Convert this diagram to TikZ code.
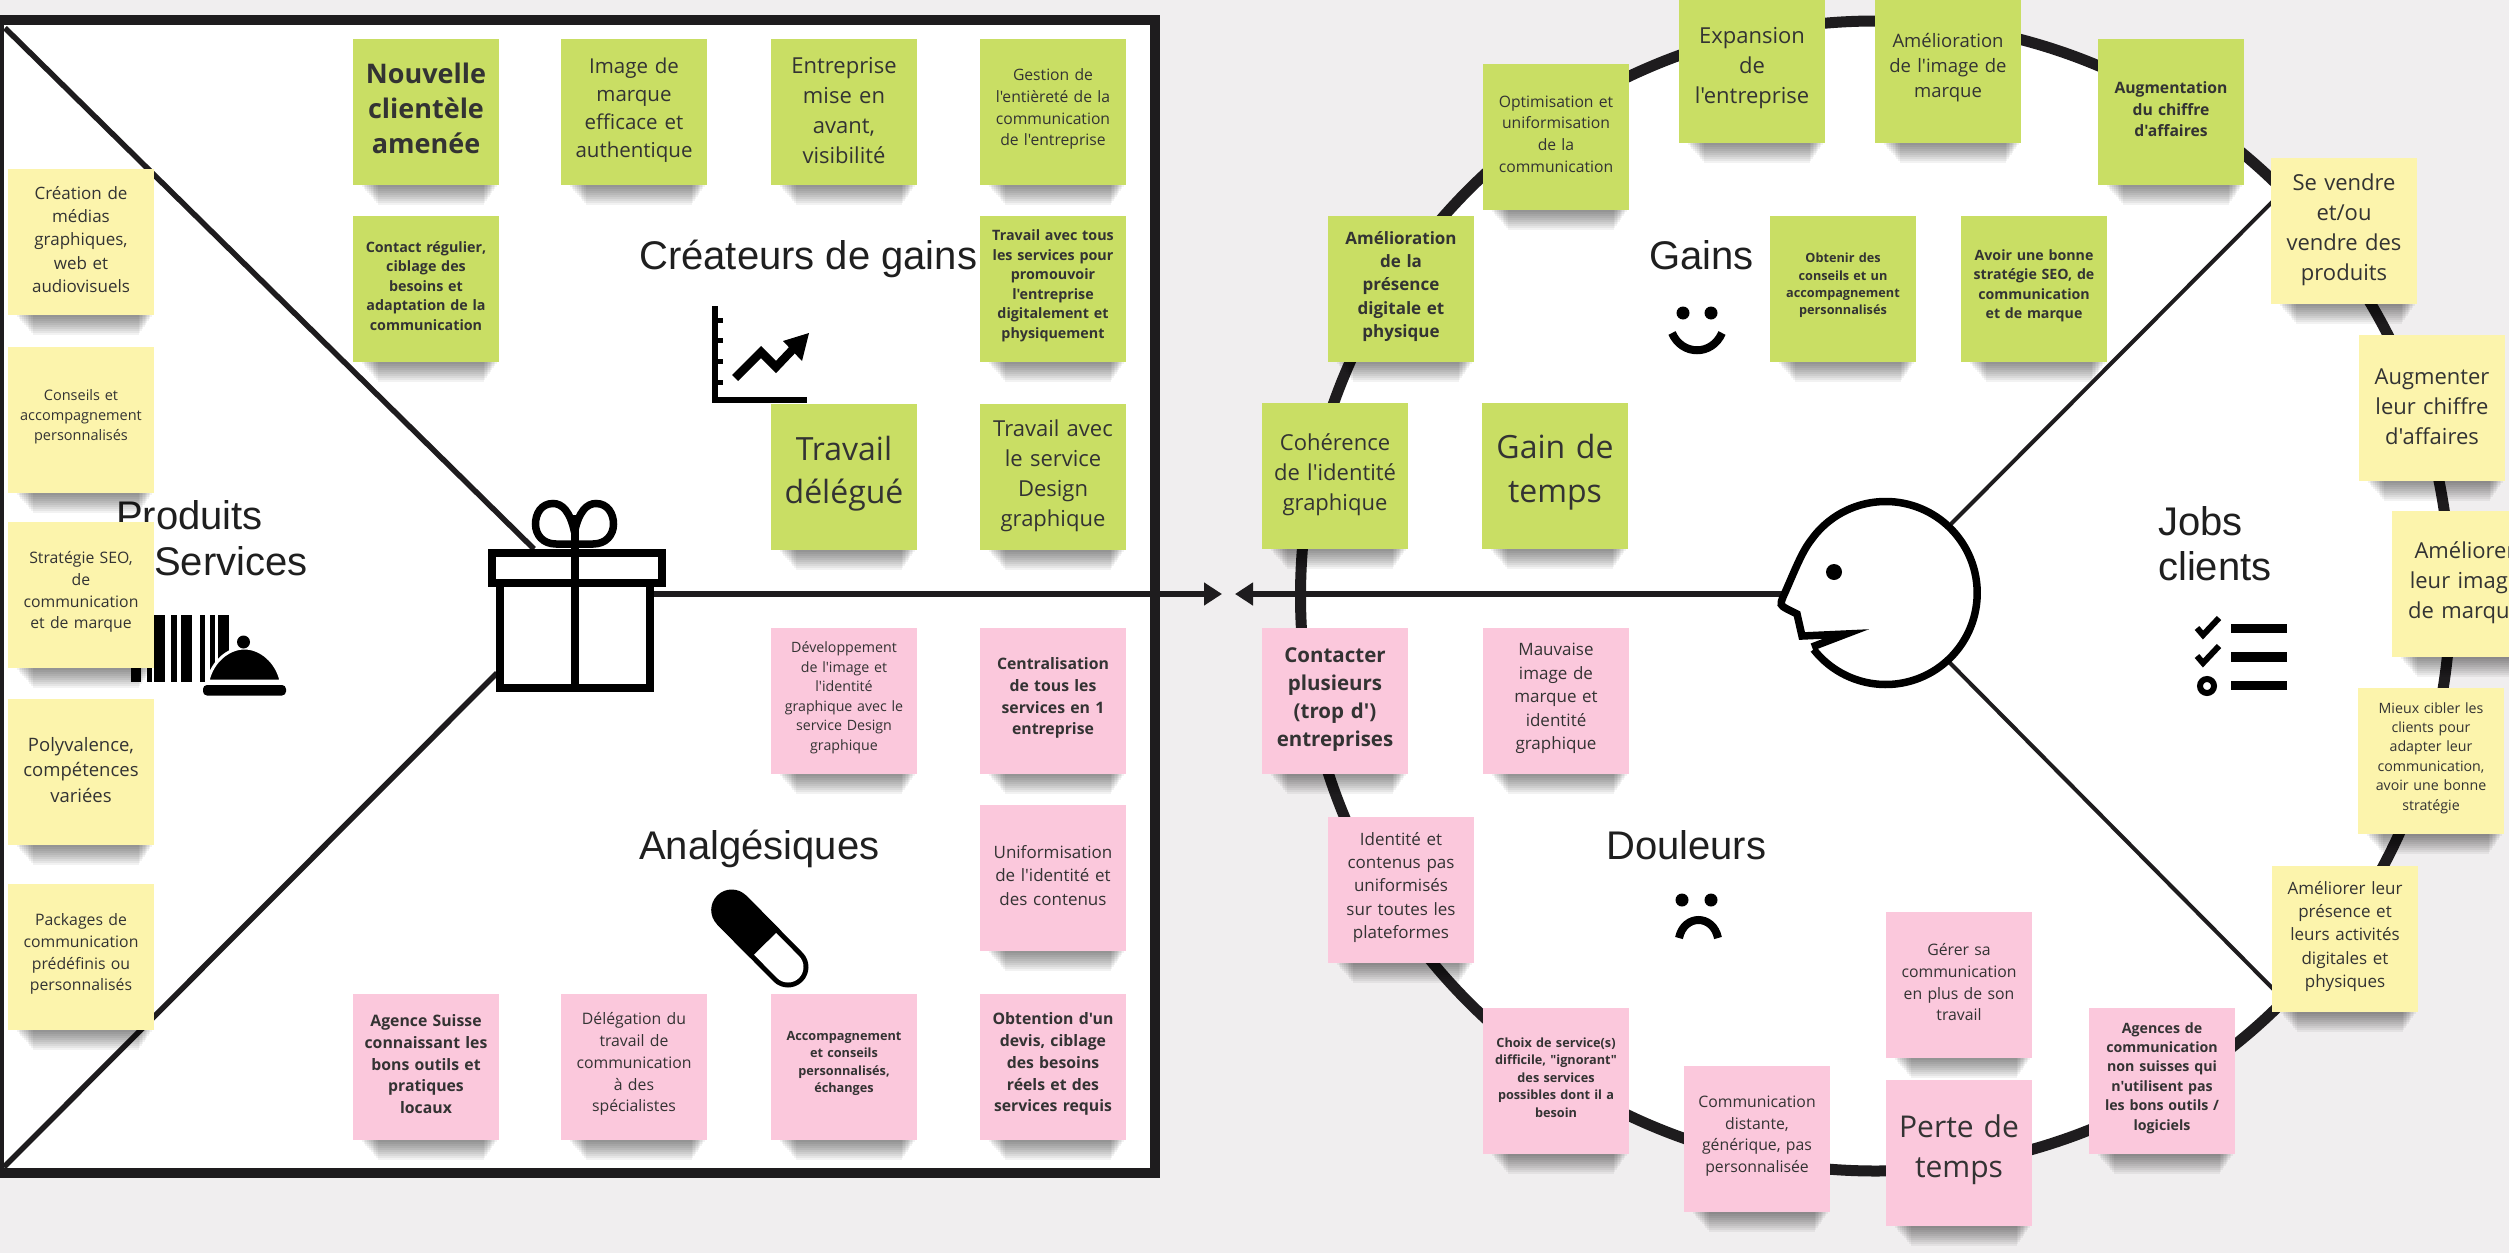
\documentclass[tikz,border=0pt]{standalone}
\usepackage{fontspec}
\usetikzlibrary{arrows.meta,calc}
\newfontfamily\osf{Open Sans}
\newfontfamily\arf{Liberation Sans}
\definecolor{bgc}{HTML}{F0EEEF}
\definecolor{ink}{HTML}{1E1C1E}
\definecolor{grn}{HTML}{C9DE64}
\definecolor{ylw}{HTML}{FCF4AC}
\definecolor{pnk}{HTML}{FBC8DC}
\tikzset{
  stickybox/.style={minimum width=146pt,minimum height=146pt,inner sep=0pt,draw=none},
  stickytext/.style={align=center,inner sep=0pt,text=black!80,text width=146pt},
  heading/.style={font=\arf\fontsize{40}{46}\selectfont,inner sep=0pt,anchor=base west,text=black!88},
  framed/.style={draw=ink,line width=10pt,fill=white},
  spoke/.style={draw=ink,line width=5.5pt},
  thinspoke/.style={draw=ink,line width=4pt},
  axisline/.style={draw=ink,line width=6pt,-{Triangle[length=18pt,width=22pt]}},
  giftline/.style={draw=black,line width=8pt},
  solidblack/.style={fill=black,draw=none}
}
\newcommand{\sticky}[8]{%
  \foreach \k in {2,4,...,20}{
    \fill[black,opacity=0.052] ({#2-66+\k*0.9},{#3+73}) rectangle ({#2+72-\k*0.7},{#3+73+\k});
  }
  \node[stickybox,fill=#4] (#1) at (#2,#3) {};
  \pgfmathsetmacro{\txtshift}{#5>=25 ? 3.5 : 6-0.2*#5}
  \node[stickytext,font=\osf#7\fontsize{#5}{#6}\selectfont] (#1t) at ([yshift=\txtshift pt]#1.center) {#8};
}
\begin{document}
\begin{tikzpicture}[x=1pt,y=-1pt]
\useasboundingbox (0,0) rectangle (2509,1253);
\fill[bgc] (0,0) rectangle (2509,1253);

% left panel
\draw[framed] (-1,19.5) rectangle (1155,1173);
\coordinate (tl) at (5,28);
\coordinate (bl) at (4,1167);
\coordinate (giftUL) at (534,549);
\coordinate (giftLL) at (497,673);
\coordinate (giftR) at (654,594);
\coordinate (tipR) at (1222,594);
% right circle
\node[circle,draw=ink,line width=11pt,fill=white,minimum size=1150pt,inner sep=0pt] (bigc) at (1875.5,596) {};
\coordinate (nose) at (1782,594);
\coordinate (tipL) at (1235,594);
\coordinate (headU) at (1951,524);
\coordinate (headD) at (1949,662);
\coordinate (outU) at (2290,184);
\coordinate (outD) at (2290,1006);

\draw[spoke] (tl) -- (giftUL);
\draw[spoke] (bl) -- (giftLL);
\draw[axisline] (giftR) -- (tipR);
\draw[axisline] (nose) -- (tipL);
\draw[thinspoke] (headU) -- (outU);
\draw[thinspoke] (headD) -- (outD);

% gift
\draw[giftline,line width=7.5pt] (574.5,532) .. controls (570,511) and (562,503.5) .. (553,503.5) .. controls (541,503.5) and (535.5,514) .. (535.5,524) .. controls (535.5,535) and (543,544) .. (556,544) -- (574.5,544);
\draw[giftline,line width=7.5pt] (574.5,532) .. controls (579,511) and (587,503.5) .. (596,503.5) .. controls (608,503.5) and (613.5,514) .. (613.5,524) .. controls (613.5,535) and (606,544) .. (593,544) -- (574.5,544);
\draw[giftline,fill=white] (500,583) rectangle (650,688);
\draw[giftline,fill=white] (492,553) rectangle (662,583);
\draw[giftline] (574.5,515) -- (574.5,690);

% headings
\node[heading] (hcg) at (639,269) {Créateurs de gains};
\node[heading] (han) at (639,859) {Analgésiques};
\node[heading] (hga) at (1649,269) {Gains};
\node[heading] (hdo) at (1606,859) {Douleurs};
\node[heading] (hjo) at (2158,535) {Jobs};
\node[heading] (hcl) at (2158,580) {clients};
\node[heading] (hpr) at (116,529) {Produits};
\node[heading] (hse) at (154,575) {Services};

% barcode and bell
\foreach \a/\b in {131/141,147/152,154/165,171/176.5,181/192,200/205,210/215,218/228.5}{
  \fill[black] (\a,615) rectangle (\b,682);
}
\draw[fill=black,draw=white,line width=3pt] (208,681) .. controls (212,662) and (228,648) .. (244.5,648) .. controls (261,648) and (277,662) .. (281,681) -- cycle;
\fill[black] (243.5,642) circle (6.5);
\fill[black,rounded corners=4pt] (203,685) rectangle (286,695.5);

% chart
\fill[black] (712,306) rectangle (717.5,403);
\fill[black] (712,397) rectangle (807,403);
\foreach \t in {318,338,359,380}{\fill[black] (716,\t) rectangle (723,\t+5);}
\draw[black,line width=8.5pt,line join=miter] (735,378) -- (761,352) -- (776,367) -- (795,347);
\fill[black] (809,333) -- (783,341) -- (802,361) -- cycle;

% pill
\draw[black,line width=41pt,line cap=round] (731.7,910) -- (788,967);
\draw[white,line width=31pt,line cap=round] (765,943.7) -- (788,967);
\draw[black,line width=41pt] (731.7,910) -- (765,943.7);

% smile / frown
\fill[black] (1683,313) circle (6.5) (1711,313) circle (6.5);
\draw[black,line width=8pt] (1672,333) .. controls (1682,356) and (1712,356) .. (1722,333);
\fill[black] (1682,900) circle (6.5) (1711,900) circle (6.5);
\draw[black,line width=8pt] (1679,938) .. controls (1684,914) and (1713,914) .. (1718,938);

% face
\draw[black,line width=7.5pt,line join=miter,miter limit=20,fill=white]
  plot[domain=142:-145,samples=90,smooth] ({1885.7+91.5*cos(\x)},{593+91.5*sin(\x)})
  .. controls (1801,553) and (1793,575) .. (1783,597)
  .. controls (1780,605) .. (1787,609)
  -- (1797,614) -- (1802,636) -- (1846,634) -- (1812,647);
\fill[black] (1834,572) circle (8);

% checklist
\draw[black,line width=6pt] (2197,628) -- (2203,635) -- (2219,618);
\draw[black,line width=6pt] (2197,656) -- (2203,663) -- (2219,646);
\draw[black,line width=6pt] (2207,686) circle (7);
\fill[black] (2231,624) rectangle (2287,633);
\fill[black] (2231,652) rectangle (2287,662);
\fill[black] (2231,681) rectangle (2287,690);

% stickies, gain creators
\sticky{a1}{426}{112}{grn}{27}{35}{\bfseries}{Nouvelle\\clientèle\\amenée}
\sticky{a2}{634}{112}{grn}{20.5}{28}{}{Image de\\marque\\efficace et\\authentique}
\sticky{a3}{844}{112}{grn}{22}{30}{}{Entreprise\\mise en\\avant,\\visibilité}
\sticky{a4}{1053}{112}{grn}{15.7}{21.7}{}{Gestion de\\l'entièreté de la\\communication\\de l'entreprise}
\sticky{a5}{426}{289}{grn}{14.3}{19.5}{\bfseries}{Contact régulier,\\ciblage des\\besoins et\\adaptation de la\\communication}
\sticky{a6}{1053}{289}{grn}{14.3}{19.5}{\bfseries}{Travail avec tous\\les services pour\\promouvoir\\l'entreprise\\digitalement et\\physiquement}
\sticky{a7}{844}{477}{grn}{32}{43}{}{Travail\\délégué}
\sticky{a8}{1053}{477}{grn}{22}{30}{}{Travail avec\\le service\\Design\\graphique}
% pain relievers
\sticky{b1}{844}{701}{pnk}{14.2}{19.6}{}{Développement\\de l'image et\\l'identité\\graphique avec le\\service Design\\graphique}
\sticky{b2}{1053}{701}{pnk}{15.8}{21.8}{\bfseries}{Centralisation\\de tous les\\services en 1\\entreprise}
\sticky{b3}{1053}{878}{pnk}{17}{23.4}{}{Uniformisation\\de l'identité et\\des contenus}
\sticky{b4}{426}{1067}{pnk}{15.8}{21.8}{\bfseries}{Agence Suisse\\connaissant les\\bons outils et\\pratiques\\locaux}
\sticky{b5}{634}{1067}{pnk}{15.8}{21.8}{}{Délégation du\\travail de\\communication\\à des\\spécialistes}
\sticky{b6}{844}{1067}{pnk}{12.7}{17.4}{\bfseries}{Accompagnement\\et conseils\\personnalisés,\\échanges}
\sticky{b7}{1053}{1067}{pnk}{15.8}{21.8}{\bfseries}{Obtention d'un\\devis, ciblage\\des besoins\\réels et des\\services requis}
% products
\sticky{c1}{81}{242}{ylw}{17}{23.3}{}{Création de\\médias\\graphiques,\\web et\\audiovisuels}
\sticky{c2}{81}{420}{ylw}{14.5}{20}{}{Conseils et\\accompagnement\\personnalisés}
\sticky{c3}{81}{595}{ylw}{15.8}{21.7}{}{Stratégie SEO,\\de\\communication\\et de marque}
\sticky{c4}{81}{772}{ylw}{18.5}{25.4}{}{Polyvalence,\\compétences\\variées}
\sticky{c5}{81}{957}{ylw}{15.8}{21.8}{}{Packages de\\communication\\prédéfinis ou\\personnalisés}
% gains
\sticky{d1}{1752}{70}{grn}{22}{30}{}{Expansion\\de\\l'entreprise}
\sticky{d2}{1948}{70}{grn}{18.5}{25.4}{}{Amélioration\\de l'image de\\marque}
\sticky{d3}{2171}{112}{grn}{15.7}{21.7}{\bfseries}{Augmentation\\du chiffre\\d'affaires}
\sticky{d4}{1556}{137}{grn}{15.7}{21.7}{}{Optimisation et\\uniformisation\\de la\\communication}
\sticky{d5}{1401}{289}{grn}{17}{23.4}{\bfseries}{Amélioration\\de la\\présence\\digitale et\\physique}
\sticky{d6}{1843}{289}{grn}{12.7}{17.4}{\bfseries}{Obtenir des\\conseils et un\\accompagnement\\personnalisés}
\sticky{d7}{2034}{289}{grn}{14.2}{19.4}{\bfseries}{Avoir une bonne\\stratégie SEO, de\\communication\\et de marque}
\sticky{d8}{1335}{476}{grn}{22}{30}{}{Cohérence\\de l'identité\\graphique}
\sticky{d9}{1555}{476}{grn}{32}{44}{}{Gain de\\temps}
% pains
\sticky{e1}{1335}{701}{pnk}{20.5}{28}{\bfseries}{Contacter\\plusieurs\\(trop d')\\entreprises}
\sticky{e2}{1556}{701}{pnk}{17}{23.5}{}{Mauvaise\\image de\\marque et\\identité\\graphique}
\sticky{e3}{1401}{890}{pnk}{17}{23.4}{}{Identité et\\contenus pas\\uniformisés\\sur toutes les\\plateformes}
\sticky{e4}{1556}{1081}{pnk}{12.7}{17.4}{\bfseries}{Choix de service(s)\\difficile, "ignorant"\\des services\\possibles dont il a\\besoin}
\sticky{e5}{1757}{1139}{pnk}{15.8}{21.8}{}{Communication\\distante,\\générique, pas\\personnalisée}
\sticky{e6}{1959}{985}{pnk}{15.8}{21.8}{}{Gérer sa\\communication\\en plus de son\\travail}
\sticky{e7}{1959}{1153}{pnk}{30}{40.5}{}{Perte de\\temps}
\sticky{e8}{2162}{1081}{pnk}{14.2}{19.4}{\bfseries}{Agences de\\communication\\non suisses qui\\n'utilisent pas\\les bons outils /\\logiciels}
% jobs
\sticky{f1}{2344}{231}{ylw}{22}{30}{}{Se vendre\\et/ou\\vendre des\\produits}
\sticky{f2}{2432}{408}{ylw}{22}{30}{}{Augmenter\\leur chiffre\\d'affaires}
\sticky{f3}{2465}{584}{ylw}{22}{30}{}{Améliorer\\leur image\\de marque}
\sticky{f4}{2431}{761}{ylw}{14.2}{19.4}{}{Mieux cibler les\\clients pour\\adapter leur\\communication,\\avoir une bonne\\stratégie}
\sticky{f5}{2345}{939}{ylw}{17}{23.4}{}{Améliorer leur\\présence et\\leurs activités\\digitales et\\physiques}
\end{tikzpicture}
\end{document}
